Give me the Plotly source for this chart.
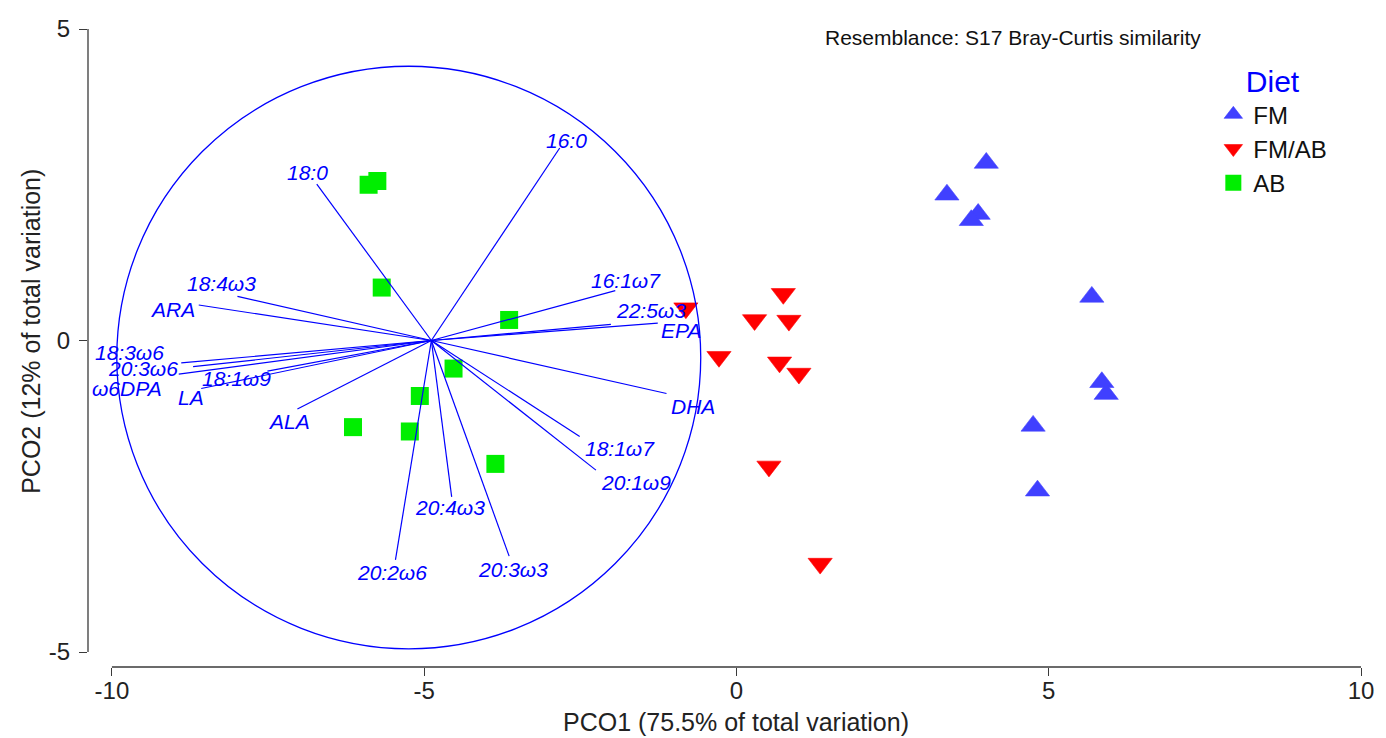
import plotly.graph_objects as go

# Sample scores on PCO1 / PCO2, grouped by diet
fm_pco1 = [4.00, 3.37, 3.87, 3.76, 5.69, 5.85, 5.92, 4.75, 4.82]
fm_pco2 = [2.85, 2.34, 2.03, 1.93, 0.70, -0.67, -0.86, -1.37, -2.41]

fmab_pco1 = [-0.81, 0.75, 0.29, 0.84, -0.28, 0.69, 1.00, 0.52, 1.34]
fmab_pco2 = [0.52, 0.75, 0.33, 0.32, -0.26, -0.35, -0.53, -2.02, -3.58]

ab_pco1 = [-5.89, -5.75, -5.68, -3.64, -4.53, -5.07, -6.14, -5.23, -3.86]
ab_pco2 = [2.50, 2.56, 0.85, 0.33, -0.45, -0.89, -1.39, -1.46, -1.98]

# Fatty-acid correlation vectors (end points in PCO units)
fa_names = ["18:0", "18:4ω3", "ARA", "18:3ω6", "20:3ω6", "ω6DPA", "18:1ω9",
            "LA", "ALA", "20:2ω6", "20:4ω3", "20:3ω3", "16:0", "16:1ω7",
            "22:5ω3", "EPA", "DHA", "18:1ω7", "20:1ω9"]
fa_end_x = [-6.72, -7.99, -8.61, -8.89, -8.70, -8.93, -7.51,
            -8.57, -7.03, -5.46, -4.56, -3.64, -2.83, -1.94,
            -2.01, -1.26, -1.12, -2.51, -2.25]
fa_end_y = [2.51, 0.71, 0.57, -0.36, -0.42, -0.54, -0.49,
            -0.77, -1.10, -3.52, -2.51, -3.46, 3.09, 0.80,
            0.26, 0.28, -0.85, -1.54, -2.08]
vector_origin = (-4.885, 0.0)
circle_center = (-5.247, -0.273)
circle_radius = 4.675

x_ticks = [-10, -5, 0, 5, 10]
y_ticks = [-5, 0, 5]

# Label placement relative to each vector tip, in screen pixels (right, down)
label_offset = {
    "18:0": (-9, -12), "18:4ω3": (-16, -13), "ARA": (-26, 4),
    "18:3ω6": (-52, -10), "20:3ω6": (-50, 2), "ω6DPA": (-52, 14),
    "18:1ω9": (-31, 7), "LA": (-10, 9), "ALA": (-8, 12),
    "20:2ω6": (-3, 13), "20:4ω3": (-2, 11), "20:3ω3": (4, 13),
    "16:0": (7, -8), "16:1ω7": (11, -10), "22:5ω3": (40, -14),
    "EPA": (23, 7), "DHA": (26, 13), "18:1ω7": (40, 12), "20:1ω9": (40, 12),
}

FONT = "Liberation Sans, Arial, sans-serif"
VEC_BLUE = "#0000ff"
AXIS_COLOR = "#3a3a3a"

fig = go.Figure()

fig.add_trace(go.Scatter(
    x=fm_pco1, y=fm_pco2, mode="markers", name="FM",
    marker=dict(symbol="triangle-up", size=21, color="#4040ff",
                line=dict(width=0.6, color="#4040ff")),
))
fig.add_trace(go.Scatter(
    x=fmab_pco1, y=fmab_pco2, mode="markers", name="FM/AB",
    marker=dict(symbol="triangle-down", size=21, color="#ff0000",
                line=dict(width=0.6, color="#ff0000")),
))
fig.add_trace(go.Scatter(
    x=ab_pco1, y=ab_pco2, mode="markers", name="AB",
    marker=dict(symbol="square", size=18, color="#00ee00",
                line=dict(width=0, color="#00ee00")),
))

# Vector lines from the common origin
vx, vy = [], []
for ex, ey in zip(fa_end_x, fa_end_y):
    vx += [vector_origin[0], ex, None]
    vy += [vector_origin[1], ey, None]
fig.add_trace(go.Scatter(
    x=vx, y=vy, mode="lines", showlegend=False, hoverinfo="skip",
    line=dict(color=VEC_BLUE, width=1.2),
))

# Correlation circle
fig.add_shape(
    type="circle", xref="x", yref="y", layer="above",
    x0=circle_center[0] - circle_radius, x1=circle_center[0] + circle_radius,
    y0=circle_center[1] - circle_radius, y1=circle_center[1] + circle_radius,
    line=dict(color=VEC_BLUE, width=1.3),
)

# Vector labels
for name, ex, ey in zip(fa_names, fa_end_x, fa_end_y):
    dx, dy = label_offset[name]
    fig.add_annotation(
        x=ex, y=ey, xref="x", yref="y", text=f"<i>{name}</i>",
        showarrow=False, xshift=dx, yshift=-dy,
        font=dict(family=FONT, size=21, color=VEC_BLUE),
    )

# Detached axis lines spanning only the tick range
fig.add_shape(type="line", xref="x", yref="paper", x0=-10, x1=10, y0=0, y1=0,
              line=dict(color=AXIS_COLOR, width=1.3))
fig.add_shape(type="line", xref="paper", yref="y", x0=0, x1=0, y0=-5, y1=5,
              line=dict(color=AXIS_COLOR, width=1.3))

# Axis titles
fig.add_annotation(
    x=0, y=0, xref="x", yref="paper", yanchor="middle", yshift=-55,
    text="PCO1 (75.5% of total variation)", showarrow=False,
    font=dict(family=FONT, size=25, color="#222"),
)
fig.add_annotation(
    x=0, y=0.14, xref="paper", yref="y", xanchor="center", xshift=-57,
    text="PCO2 (12% of total variation)", showarrow=False, textangle=-90,
    font=dict(family=FONT, size=25, color="#222"),
)

fig.add_annotation(
    x=0.8756, y=0.987, xref="paper", yref="paper",
    xanchor="right", yanchor="middle",
    text="Resemblance: S17 Bray-Curtis similarity", showarrow=False,
    font=dict(family=FONT, size=21, color="#111"),
)

fig.update_xaxes(
    range=[-10.383, 10], showgrid=False, zeroline=False, showline=False,
    tickmode="array", tickvals=x_ticks, ticktext=[str(v) for v in x_ticks],
    ticks="outside", ticklen=8, tickwidth=1.3, tickcolor=AXIS_COLOR,
    ticklabelstandoff=-6,
    tickfont=dict(family=FONT, size=24, color="#222"),
)
fig.update_yaxes(
    range=[-5.24, 5], showgrid=False, zeroline=False, showline=False,
    tickmode="array", tickvals=y_ticks, ticktext=[str(v) for v in y_ticks],
    ticks="outside", ticklen=8, tickwidth=1.3, tickcolor=AXIS_COLOR,
    ticklabelstandoff=4,
    tickfont=dict(family=FONT, size=24, color="#222"),
)

fig.update_layout(
    width=1386, height=738,
    margin=dict(l=88, r=20, t=29, b=71),
    paper_bgcolor="white", plot_bgcolor="white",
    font=dict(family=FONT),
    legend=dict(
        x=0.884, y=0.962, xanchor="left", yanchor="top",
        bgcolor="rgba(0,0,0,0)",
        title=dict(text="Diet", side="top center",
                   font=dict(family=FONT, size=30, color="#0000ff")),
        font=dict(family=FONT, size=24, color="#111"),
        tracegroupgap=0,
    ),
)

fig.write_html("out.html", config={"displayModeBar": False})
